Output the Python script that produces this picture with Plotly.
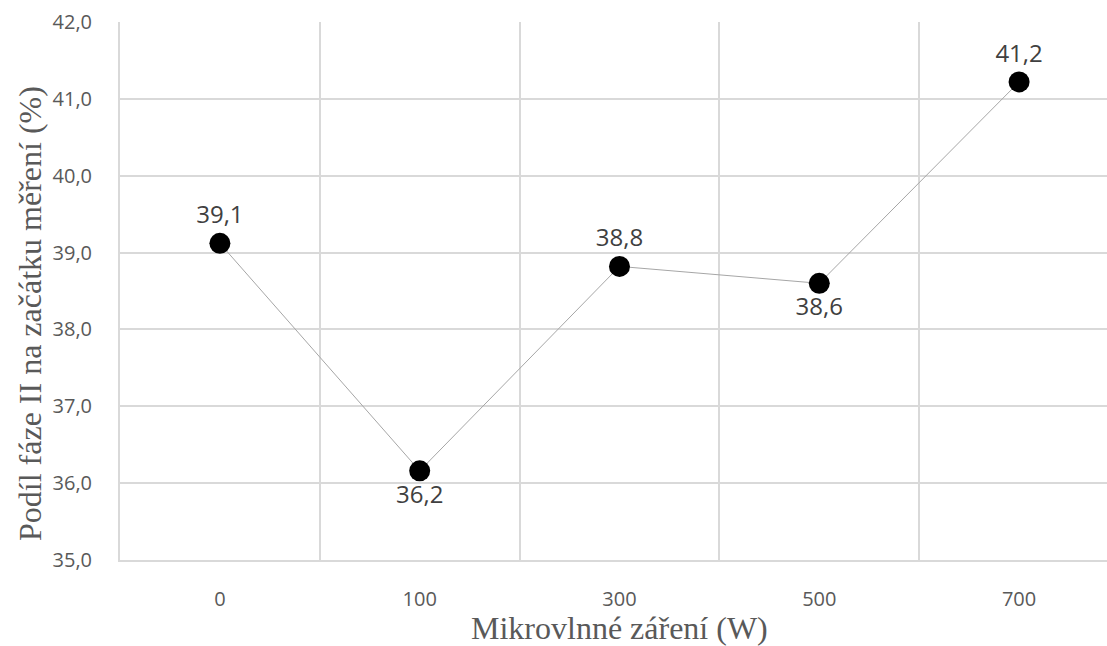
import plotly.graph_objects as go

categories = ["0", "100", "300", "500", "700"]
values = [39.12, 36.16, 38.82, 38.6, 41.22]
labels = ["39,1", "36,2", "38,8", "38,6", "41,2"]
positions = ["top center", "bottom center", "top center", "bottom center", "top center"]
y_ticks = [35, 36, 37, 38, 39, 40, 41, 42]
y_ticktext = ["35,0", "36,0", "37,0", "38,0", "39,0", "40,0", "41,0", "42,0"]

fig = go.Figure()
fig.add_trace(go.Scatter(
    x=categories, y=values, mode="lines+markers+text",
    line=dict(color="#A6A6A6", width=1),
    marker=dict(color="black", size=21),
    text=labels, textposition=positions,
    textfont=dict(family="Open Sans", size=24, color="#404040"),
    cliponaxis=False, showlegend=False,
))

fig.update_layout(
    width=1107, height=646,
    margin=dict(l=120, r=0, t=22, b=86),
    paper_bgcolor="white", plot_bgcolor="white",
    xaxis=dict(type="category", range=[-0.5, 4.44], tickson="boundaries",
               showgrid=True, gridcolor="#D9D9D9", gridwidth=2,
               ticks="", zeroline=False, showline=True, linecolor="#D9D9D9", linewidth=2,
               tickfont=dict(family="Open Sans", size=20, color="#595959")),
    yaxis=dict(range=[35, 42], tickvals=y_ticks, ticktext=y_ticktext,
               showgrid=True, gridcolor="#D9D9D9", gridwidth=2,
               zeroline=False, showline=True, linecolor="#D9D9D9", linewidth=2, ticks="",
               tickfont=dict(family="Open Sans", size=20, color="#595959")),
    annotations=[
        dict(text="Mikrovlnné záření (W)", xref="paper", yref="paper",
             x=(619 - 120) / 987, y=-(628 - 560) / 538, xanchor="center", yanchor="middle",
             showarrow=False, font=dict(family="Liberation Serif", size=32, color="#595959")),
        dict(text="Podíl fáze II na začátku měření (%)", xref="paper", yref="paper",
             x=(30 - 120) / 987, y=(560 - 314) / 538, xanchor="center", yanchor="middle", textangle=-90,
             showarrow=False, font=dict(family="Liberation Serif", size=32, color="#595959")),
    ],
)
fig.update_xaxes(ticklabelstandoff=20)
fig.update_yaxes(ticklabelstandoff=22)
fig.write_html("out.html")
